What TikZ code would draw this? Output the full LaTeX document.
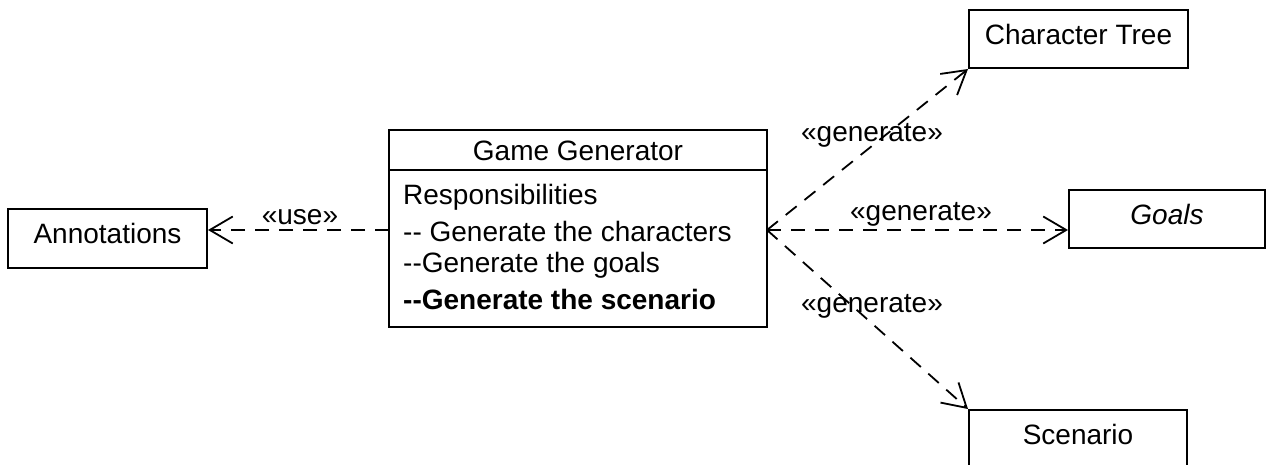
\documentclass[tikz,border=0pt]{standalone}
\usepackage{fontspec}
\setmainfont{Liberation Sans}[Ligatures=TeXOff]
\usetikzlibrary{arrows.meta}
\begin{document}
\begin{tikzpicture}[x=1pt,y=-1pt,
  box/.style={draw,line width=2pt,rectangle,inner sep=0pt,text depth=10pt,font=\fontsize{28}{34}\selectfont},
  txt/.style={inner sep=0pt,font=\fontsize{28}{34}\selectfont},
  dep/.style={line width=1.8pt,dash pattern=on 14pt off 10pt,-{Straight Barb[length=23pt,width=27pt,line width=1.8pt]}},
  lab/.style={inner sep=0pt,font=\fontsize{28}{34}\selectfont}]
\useasboundingbox (0,0) rectangle (1272,465);
\clip (0,0) rectangle (1272,465);
\node[box,minimum width=199pt,minimum height=59pt] (ann) at (107.5,238.5) {Annotations};
\node[box,minimum width=378pt,minimum height=197pt] (gg) at (578,228.5) {};
\draw[line width=2pt] (gg.west |- 0,170) coordinate (dl) -- (gg.east |- 0,170) coordinate (dr);
\node[txt] (ggt) at (578,151) {Game Generator};
\node[txt,anchor=west] (r1) at (403,197) {Responsibilities};
\node[txt,anchor=west] (r2) at (403,231) {-{}- Generate the characters};
\node[txt,anchor=west] (r3) at (403,265) {-{}-Generate the goals};
\node[txt,anchor=west] (r4) at (403,299) {\bfseries -{}-Generate the scenario};
\node[box,minimum width=219pt,minimum height=58pt] (ct) at (1078.5,39) {Character Tree};
\node[box,minimum width=196pt,minimum height=58pt] (goals) at (1167,219) {\itshape Goals};
\node[box,minimum width=218pt,minimum height=58pt] (sc) at (1078,439) {Scenario};
\coordinate (src) at (767,230);
\coordinate (srcl) at (389,230);
\draw[dep] (srcl) -- (ann.east |- srcl);
\draw[dep] (src) -- (ct.south west);
\draw[dep] (src) -- (goals.west |- src);
\draw[dep] (src) -- (sc.north west);
\node[lab] (l1) at (300,217) {«use»};
\node[lab] (l2) at (872,135) {«generate»};
\node[lab] (l3) at (921,214) {«generate»};
\node[lab] (l4) at (872,306) {«generate»};
\end{tikzpicture}
\end{document}
